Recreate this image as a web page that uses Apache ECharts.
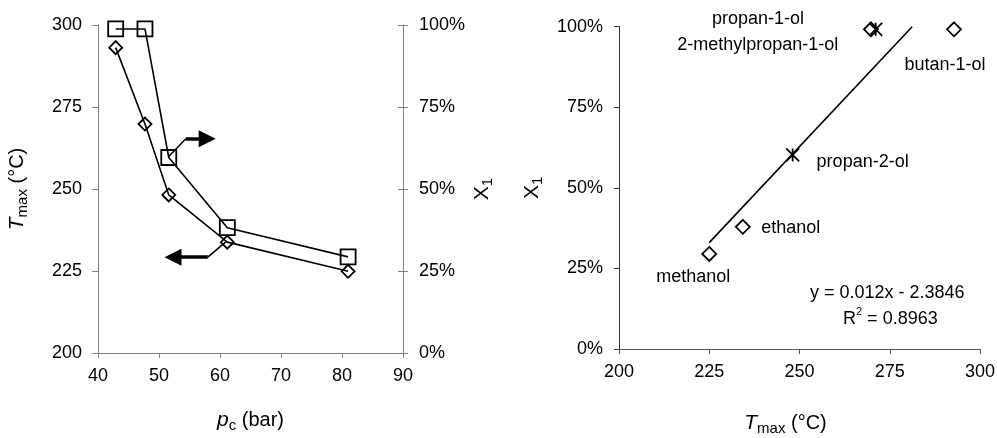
<!DOCTYPE html>
<html>
<head>
<meta charset="utf-8">
<script src="https://cdn.jsdelivr.net/npm/echarts@6/dist/echarts.min.js"></script>
<style>html,body{margin:0;padding:0;background:#fff;}#c{width:997px;height:438px;}</style>
</head>
<body>
<div id="c"></div>
<script>
// ---- Left panel data ----
var pcBar   = [42.9, 47.7, 51.6, 61.2, 81.0];
var tmaxL   = [293.1, 269.8, 248.2, 233.8, 224.9];
var x1L     = [98.8, 98.8, 59.6, 38.2, 29.3];
var leftTicksX = [40, 50, 60, 70, 80, 90];
// annotation arrows (left panel, in pc / Tmax units)
var arrowToRight = [[51.6, 259.9], [54.4, 265.3], [57.9, 265.3]];
var arrowToLeft  = [[61.05, 234.0], [58.0, 229.2], [52.3, 229.2]];

// ---- Right panel data ----
var alcohols = ['methanol', 'ethanol', 'propan-2-ol', 'propan-1-ol', '2-methylpropan-1-ol', 'butan-1-ol'];
var tmaxR    = [225.0, 234.3, 248.1, 269.8, 271.1, 292.8];
var x1R      = [29.5, 37.9, 60.2, 99.2, 99.2, 99.2];
var markerR  = ['diamond', 'diamond', 'star', 'diamond', 'star', 'diamond'];
var trendX   = [225.0, 281.2];
var trendY   = [33.0, 100.0];
var eqnText  = 'y = 0.012x - 2.3846';
var r2Text   = '0.8963';

// label placement (style only)
var labelOffsets = {
  'methanol': [-16, 23],
  'ethanol': [48, 1],
  'propan-2-ol': [70, 7],
  'propan-1-ol': [-113, -10],
  '2-methylpropan-1-ol': [-118, 16],
  'butan-1-ol': [-9, 36]
};

var FONT = '"Liberation Sans", Arial, sans-serif';
var starPath = 'path://M0,0L10,10M10,0L0,10M5,0L5,10';

function nameRich() {
  return {
    fontFamily: FONT, fontSize: 20, color: '#000', lineHeight: 26,
    rich: {
      i: {fontFamily: FONT, fontSize: 21, fontStyle: 'italic', color: '#000', lineHeight: 26},
      s: {fontFamily: FONT, fontSize: 15, color: '#000', lineHeight: 15, verticalAlign: 'bottom'},
      n: {fontFamily: FONT, fontSize: 21, color: '#000', lineHeight: 26}
    }
  };
}

function scatterData(kind) {
  var out = [];
  for (var i = 0; i < alcohols.length; i++) {
    if (markerR[i] !== kind) continue;
    out.push({
      name: alcohols[i],
      value: [tmaxR[i], x1R[i]],
      label: {show: true, formatter: alcohols[i], offset: labelOffsets[alcohols[i]], position: 'inside',
              fontFamily: FONT, fontSize: 18, color: '#000', textBorderWidth: 0, opacity: 1}
    });
  }
  return out;
}

function zip(a, b) { var r = []; for (var i = 0; i < a.length; i++) r.push([a[i], b[i]]); return r; }

function arrowSeries(pts) {
  return {
    type: 'line', xAxisIndex: 0, yAxisIndex: 0, data: [pts[0], pts[1]],
    symbol: 'none', silent: true, z: 5,
    lineStyle: {color: '#000', width: 1.6},
    markLine: {
      silent: true, animation: false,
      symbol: ['none', 'triangle'], symbolSize: 17,
      label: {show: false},
      lineStyle: {color: '#000', width: 3.5, type: 'solid'},
      emphasis: {disabled: true},
      data: [[{coord: pts[1]}, {coord: pts[2]}]]
    }
  };
}

var chart = echarts.init(document.getElementById('c'), null, {renderer: 'canvas'});
var option = {
  animation: false,
  backgroundColor: '#fff',
  grid: [
    {left: 98, top: 25, width: 305, height: 328, outerBoundsMode: 'none', containLabel: false},
    {left: 619, top: 26.7, width: 361, height: 322.3, outerBoundsMode: 'none', containLabel: false}
  ],
  xAxis: [
    {type: 'value', gridIndex: 0, min: leftTicksX[0], max: leftTicksX[leftTicksX.length - 1], interval: 10,
     name: '{i|p}{s|c} (bar)', nameLocation: 'middle', nameGap: 54, nameTextStyle: nameRich(),
     axisLine: {lineStyle: {color: '#808080', width: 1}},
     axisTick: {show: true, inside: false, length: 5, lineStyle: {color: '#808080'}},
     axisLabel: {margin: 14, fontFamily: FONT, fontSize: 18, color: '#000'},
     splitLine: {show: false}},
    {type: 'value', gridIndex: 1, min: 200, max: 300, interval: 25,
     name: '{i|T}{s|max} (°C)', nameLocation: 'middle', nameGap: 61, nameTextStyle: Object.assign(nameRich(), {padding: [0, 28, 0, 0]}),
     axisLine: {lineStyle: {color: '#555', width: 1}},
     axisTick: {show: true, inside: false, length: 5, lineStyle: {color: '#555'}},
     axisLabel: {margin: 14, fontFamily: FONT, fontSize: 18, color: '#000'},
     splitLine: {show: false}}
  ],
  yAxis: [
    {type: 'value', gridIndex: 0, min: 200, max: 300, interval: 25, position: 'left',
     name: '{i|T}{s|max} (°C)', nameLocation: 'middle', nameRotate: 90, nameGap: 68, nameTextStyle: nameRich(),
     axisLine: {show: true, lineStyle: {color: '#808080', width: 1}},
     axisTick: {show: true, inside: false, length: 6, lineStyle: {color: '#808080'}},
     axisLabel: {margin: 16, fontFamily: FONT, fontSize: 18, color: '#000'},
     splitLine: {show: false}},
    {type: 'value', gridIndex: 0, min: 0, max: 100, interval: 25, position: 'right',
     name: '{n|X}{s|1}', nameLocation: 'middle', nameRotate: 90, nameGap: 66, nameTextStyle: nameRich(),
     axisLine: {show: true, lineStyle: {color: '#808080', width: 1}},
     axisTick: {show: true, inside: false, length: 5, lineStyle: {color: '#808080'}},
     axisLabel: {margin: 16, fontFamily: FONT, fontSize: 18, color: '#000', formatter: '{value}%'},
     splitLine: {show: false}},
    {type: 'value', gridIndex: 0, min: 0, max: 100, interval: 25, position: 'right',
     axisLine: {show: false},
     axisTick: {show: true, inside: true, length: 5, lineStyle: {color: '#808080'}},
     axisLabel: {show: false}, splitLine: {show: false}},
    {type: 'value', gridIndex: 1, min: 0, max: 100, interval: 25, position: 'left',
     name: '{n|X}{s|1}', nameLocation: 'middle', nameRotate: 90, nameGap: 74, nameTextStyle: nameRich(),
     axisLine: {show: true, lineStyle: {color: '#333', width: 1}},
     axisTick: {show: true, inside: false, length: 5, lineStyle: {color: '#333'}},
     axisLabel: {margin: 16, fontFamily: FONT, fontSize: 18, color: '#000', formatter: '{value}%'},
     splitLine: {show: false}}
  ],
  series: [
    {type: 'line', name: 'Tmax', xAxisIndex: 0, yAxisIndex: 0, data: zip(pcBar, tmaxL),
     symbol: 'diamond', symbolSize: 13, z: 3,
     lineStyle: {color: '#000', width: 1.6},
     itemStyle: {color: 'rgba(255,255,255,0)', borderColor: '#000', borderWidth: 1.8, opacity: 1}},
    {type: 'line', name: 'X1', xAxisIndex: 0, yAxisIndex: 1, data: zip(pcBar, x1L),
     symbol: 'rect', symbolSize: 15, z: 3,
     lineStyle: {color: '#000', width: 1.6},
     itemStyle: {color: 'rgba(255,255,255,0)', borderColor: '#000', borderWidth: 1.8, opacity: 1}},
    arrowSeries(arrowToRight),
    arrowSeries(arrowToLeft),
    {type: 'line', name: 'trend', xAxisIndex: 1, yAxisIndex: 3, data: zip(trendX, trendY),
     symbol: 'none', lineStyle: {color: '#000', width: 1.6}, z: 2},
    {type: 'scatter', name: 'diamond', xAxisIndex: 1, yAxisIndex: 3, data: scatterData('diamond'),
     symbol: 'diamond', symbolSize: 14, z: 4,
     itemStyle: {color: 'rgba(255,255,255,0)', borderColor: '#000', borderWidth: 1.8, opacity: 1}},
    {type: 'scatter', name: 'star', xAxisIndex: 1, yAxisIndex: 3, data: scatterData('star'),
     symbol: starPath, symbolSize: 13, z: 4,
     itemStyle: {color: 'rgba(0,0,0,0)', borderColor: '#000', borderWidth: 1.8, opacity: 1}}
  ],
  graphic: [
    {type: 'text', left: 810, top: 284, style: {text: eqnText, fontFamily: FONT, fontSize: 18, fill: '#000'}},
    {type: 'text', left: 843, top: 306,
     style: {text: '{a|R}{b|2}{a| = ' + r2Text + '}', fontFamily: FONT, fontSize: 18, fill: '#000',
             rich: {a: {fontFamily: FONT, fontSize: 18, lineHeight: 22, verticalAlign: 'bottom'},
                    b: {fontFamily: FONT, fontSize: 11, lineHeight: 11, verticalAlign: 'top'}}}}
  ]
};
chart.setOption(option);
</script>
</body>
</html>
